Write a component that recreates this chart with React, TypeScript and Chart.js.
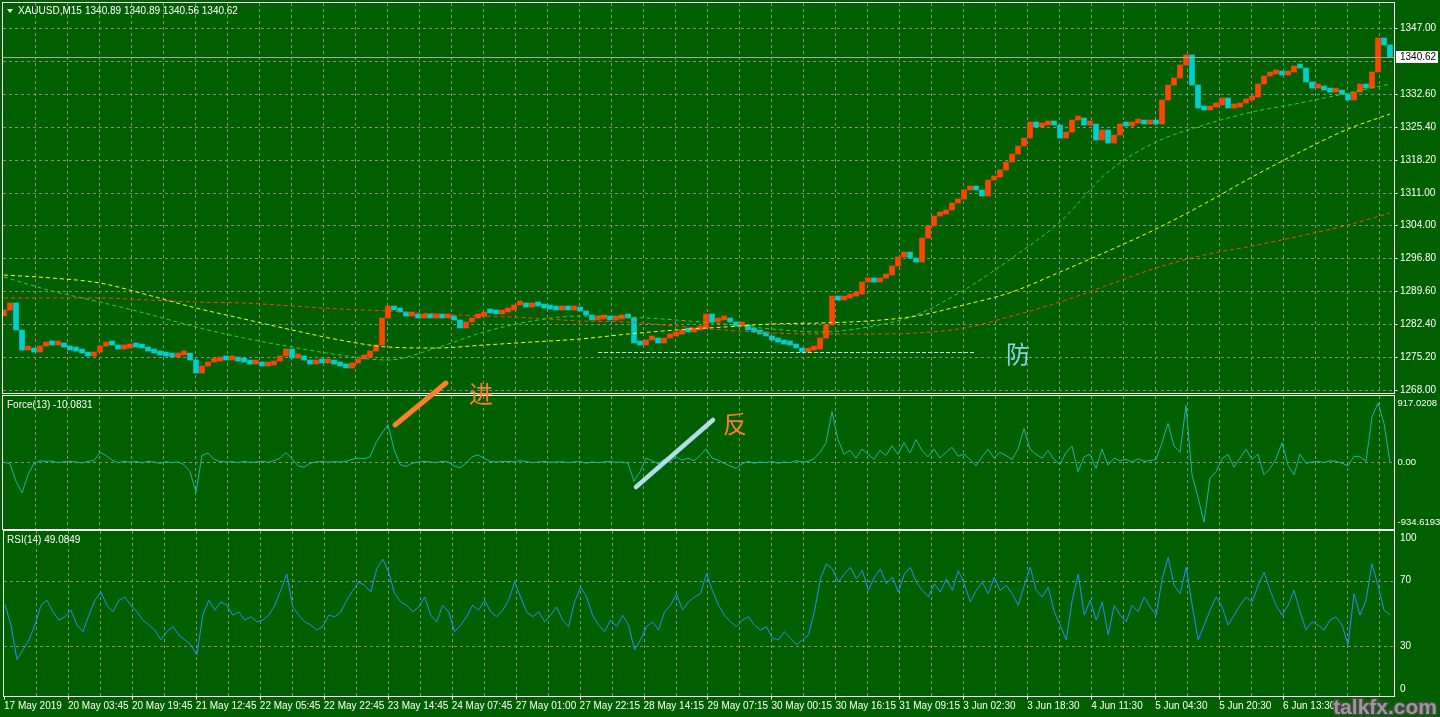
import React, { useEffect, useRef } from 'react';
import { Chart, registerables } from 'chart.js';

Chart.register(...registerables);

// ---------------- data ----------------
const SYMBOL_TEXT = 'XAUUSD,M15';
const OHLC_TEXT = '1340.89 1340.89 1340.56 1340.62';
const FORCE_TITLE = 'Force(13) -10.0831';
const RSI_TITLE = 'RSI(14) 49.0849';

const TIME_LABELS = [
  '17 May 2019', '20 May 03:45', '20 May 19:45', '21 May 12:45', '22 May 05:45', '22 May 22:45',
  '23 May 14:45', '24 May 07:45', '27 May 01:00', '27 May 22:15', '28 May 14:15', '29 May 07:15',
  '30 May 00:15', '30 May 16:15', '31 May 09:15', '3 Jun 02:30', '3 Jun 18:30', '4 Jun 11:30',
  '5 Jun 04:30', '5 Jun 20:30', '6 Jun 13:30',
];
const BARS_PER_LABEL = 64; // M15 bars between time labels
const BARS_PER_GRID = 32; // M15 bars between vertical grid lines
const BARS_VISIBLE = 1391; // M15 bars across the window
const BARS_PER_SAMPLE = 6; // M15 bars represented by each sample below
const MA_EVERY = 8; // samples between moving-average readings

const FIRST_OPEN = 1284.2;
const CLOSES = [
  1285.46, 1286.99, 1281.10, 1276.73, 1276.95, 1276.29, 1277.60, 1278.26, 1277.82, 1278.04,
  1277.38, 1276.73, 1276.51, 1276.07, 1275.42, 1276.29, 1277.60, 1278.26, 1277.82, 1276.95,
  1277.17, 1278.04, 1277.38, 1277.17, 1276.51, 1276.07, 1275.64, 1275.42, 1275.20, 1275.64,
  1276.07, 1274.55, 1271.71, 1273.24, 1274.11, 1274.33, 1274.77, 1274.55, 1274.98, 1274.33,
  1274.11, 1273.67, 1273.89, 1273.24, 1273.46, 1274.33, 1275.42, 1276.95, 1274.98, 1275.42,
  1274.55, 1273.67, 1274.11, 1273.89, 1274.11, 1273.67, 1273.24, 1272.80, 1273.89, 1274.77,
  1275.20, 1276.51, 1277.82, 1283.72, 1286.33, 1285.46, 1285.02, 1284.15, 1284.59, 1283.72,
  1284.15, 1283.72, 1284.37, 1283.72, 1284.15, 1283.28, 1281.53, 1282.84, 1283.72, 1284.15,
  1285.02, 1284.81, 1284.59, 1285.02, 1285.46, 1286.55, 1286.77, 1286.11, 1286.77, 1286.33,
  1285.90, 1285.68, 1285.46, 1286.11, 1285.46, 1285.90, 1285.24, 1284.37, 1283.28, 1283.50,
  1283.93, 1283.28, 1283.50, 1284.15, 1283.72, 1278.26, 1277.82, 1278.91, 1279.35, 1278.26,
  1279.35, 1279.79, 1280.22, 1281.10, 1280.66, 1281.10, 1281.53, 1284.59, 1282.84, 1283.28,
  1283.72, 1282.84, 1281.97, 1282.19, 1281.10, 1280.66, 1280.22, 1279.79, 1278.91, 1278.48,
  1278.04, 1277.82, 1277.17, 1276.29, 1276.73, 1276.95, 1279.35, 1282.19, 1288.51, 1287.64,
  1288.08, 1288.51, 1288.95, 1291.57, 1292.01, 1291.57, 1292.44, 1293.10, 1295.06, 1297.03,
  1298.12, 1296.81, 1295.93, 1301.17, 1303.79, 1305.97, 1306.41, 1307.28, 1308.81, 1309.68,
  1311.65, 1312.08, 1311.65, 1310.34, 1313.83, 1314.48, 1316.01, 1317.76, 1319.50, 1321.25,
  1322.99, 1326.49, 1325.40, 1325.83, 1326.49, 1325.83, 1322.99, 1324.30, 1326.92, 1327.36,
  1325.83, 1326.05, 1322.56, 1324.74, 1321.90, 1323.65, 1326.05, 1325.61, 1326.27, 1326.70,
  1326.05, 1326.27, 1326.05, 1331.29, 1334.56, 1336.09, 1338.93, 1341.11, 1334.56, 1329.54,
  1329.10, 1329.76, 1330.20, 1331.72, 1329.54, 1329.76, 1330.63, 1331.29, 1331.94, 1334.78,
  1336.52, 1336.96, 1337.40, 1336.74, 1337.40, 1338.71, 1338.27, 1335.22, 1333.91, 1334.12,
  1333.47, 1333.03, 1333.25, 1332.60, 1331.29, 1333.03, 1334.78, 1333.91, 1337.40, 1344.82,
  1343.29, 1340.62,
];

const MA_YELLOW = [
  1293.10, 1292.44, 1291.35, 1288.73, 1285.90, 1283.50, 1281.10, 1278.91, 1277.38, 1277.17,
  1277.82, 1278.48, 1279.13, 1280.22, 1281.10, 1281.75, 1282.41, 1282.63, 1283.06, 1284.15,
  1286.55, 1289.39, 1293.75, 1298.33, 1303.14, 1308.59, 1314.48, 1319.94, 1324.96, 1328.23,
];
const MA_GREEN = [
  1292.66, 1289.61, 1287.20, 1284.59, 1281.75, 1279.35, 1277.38, 1275.64, 1274.55, 1277.17,
  1280.66, 1283.06, 1284.15, 1283.93, 1283.28, 1282.41, 1281.31, 1280.66, 1281.75, 1284.37,
  1289.82, 1296.81, 1304.66, 1315.57, 1322.12, 1325.83, 1328.67, 1330.63, 1332.82, 1334.78,
];
const MA_RED = [
  1288.08, 1288.08, 1288.08, 1287.64, 1287.20, 1286.99, 1286.33, 1285.68, 1285.24, 1284.59,
  1284.15, 1283.72, 1283.06, 1282.84, 1281.97, 1281.10, 1280.44, 1280.22, 1280.22, 1280.44,
  1281.53, 1284.15, 1287.20, 1290.91, 1294.62, 1297.46, 1299.43, 1301.61, 1304.01, 1306.63,
];

const FORCE = [
  0, -30, -300, -480, -200, -20, 20, 10, 15, -10,
  5, 10, 0, -15, 10, 20, 150, 100, 30, -10,
  10, 0, 10, -15, 10, 0, -20, 5, -10, 0,
  -40, -150, -470, 100, 140, 40, 10, 0, 5, -10,
  10, -5, 0, 10, -5, 20, 60, 150, 50, -60,
  -80, -20, 0, 10, -5, 5, 0, 10, 40, 60,
  50, 80, 300, 450, 580, 200, -40, -70, -20, 0,
  10, 0, -10, 10, 0, -60, -90, -20, 80, 110,
  60, 10, 0, 5, 10, 0, 20, 10, -10, 0,
  10, -5, 0, 5, -10, 0, 10, -20, 0, -10,
  0, 10, -5, 0, -20, -300, -150, 60, 20, -30,
  40, 10, 80, 30, 60, 20, 100, 200, 60, 30,
  -20, -60, -100, -30, 10, -20, 0, -10, 10, -20,
  0, -10, 20, 0, 10, 50, 150, 300, 780, 350,
  120, 180, 60, 200, 120, 40, 180, 100, 250, 120,
  300, 140, 350, 180, 80, 200, 60, 150, 230, 90,
  120, 40, -60, 80, 200, 60, 150, 100, 40, 200,
  520, 200, 120, 60, 180, 40, -40, 150, 250, -150,
  80, 120, -100, 200, -50, 60, 20, 40, 0, 50,
  10, 20, 40, 300, 600, 250, 150, 880, -200, -550,
  -934.6, -250, -150, 50, 120, -80, 60, 200, 40, 120,
  -200, -100, 50, 300, -50, -200, 120, -20, 0, 10,
  -10, 20, 10, -20, -60, 90, 80, 10, 700, 917,
  600, -10.08,
];

const RSI = [
  55.5, 43, 22, 28, 34, 43, 55, 58, 51, 46,
  48, 52, 43, 39, 49, 58, 63, 55, 51, 58,
  60, 55, 51, 46, 43, 40, 34, 39, 42, 37,
  34, 31, 25, 49, 58, 52, 57, 55, 49, 51,
  46, 48, 45, 46, 49, 55, 64, 74, 54, 49,
  45, 43, 40, 42, 49, 48, 51, 58, 64, 69,
  67, 63, 77, 83, 75, 62, 57, 55, 51, 54,
  60, 49, 45, 55, 51, 39, 43, 48, 55, 52,
  58, 51, 48, 52, 58, 69, 60, 51, 48, 51,
  45, 49, 54, 46, 42, 57, 66, 60, 49, 43,
  39, 46, 42, 49, 43, 28, 34, 42, 45, 40,
  51, 55, 62, 52, 57, 60, 62, 74, 64, 55,
  49, 45, 42, 46, 48, 43, 40, 42, 35, 34,
  39, 35, 31, 34, 37, 51, 71, 80, 77, 69,
  74, 78, 71, 76, 64, 72, 77, 68, 72, 63,
  74, 78, 69, 64, 60, 68, 63, 71, 64, 76,
  68, 57, 64, 69, 62, 72, 64, 67, 62, 55,
  67, 78, 64, 60, 66, 51, 43, 34, 58, 74,
  49, 58, 46, 57, 37, 55, 49, 45, 55, 51,
  60, 54, 49, 71, 84, 67, 62, 78, 55, 34,
  43, 52, 60, 54, 43, 49, 55, 60, 57, 67,
  75, 64, 55, 49, 55, 64, 51, 40, 45, 43,
  40, 46, 48, 43, 31, 62, 49, 58, 80, 67,
  52, 49.08,
];

const PRICE_LEVELS = [1268.0, 1275.2, 1282.4, 1289.6, 1296.8, 1304.0, 1311.0, 1318.2, 1325.4, 1332.6, 1339.8, 1347.0];
const LAST_PRICE = 1340.62;
const PRICE_RANGE = [1267.35, 1352.46];
const FORCE_LEVELS = [917.0208, 0, -934.6193];
const FORCE_LABELS = ['917.0208', '0.00', '-934.6193'];
const FORCE_RANGE = [-1041.9, 1026.3];
const RSI_LEVELS = [100, 70, 30, 0];
const RSI_GRID = [70, 30];

// hand-drawn annotations, in bar number / value units of their panel
const NOTE_ENTRY_LINE = [[392, 575], [443, 1228]];
const NOTE_ENTRY_TEXT = { text: '进', bar: 478, value: 1057 };
const NOTE_REVERSE_LINE = [[633, -389], [710, 653]];
const NOTE_REVERSE_TEXT = { text: '反', bar: 732, value: 591 };
const NOTE_STOP_LINE = { value: 1276.29, fromBar: 595, toBar: 972 };
const NOTE_STOP_TEXT = { text: '防', bar: 1015, value: 1275.85 };
const WATERMARK = 'talkfx.com';

// ---------------- styles ----------------
const W = 1440;
const FONT = "'Liberation Sans', Arial, sans-serif";
const FONT_SIZE = 10;
const CJK = "'Noto Sans CJK SC', sans-serif";
const BG = '#006000';
const GRID_COLOR = '#8c8c8c';
const FRAME = '#ffffff';
const TEXT = '#ffffff';
const BULL = '#FF4500';
const BEAR = '#00CED1';
const AXIS_W = 46;

Chart.defaults.font.family = FONT;

const sampleBar = (i: number) => i * BARS_PER_SAMPLE + 1;

const xScale = (labels: boolean) => ({
  type: 'linear',
  min: 0,
  max: BARS_VISIBLE,
  offset: false,
  grid: { display: false, drawTicks: false, tickLength: 0 },
  border: { display: false },
  afterBuildTicks: (s: any) => {
    s.ticks = TIME_LABELS.map((_, k) => ({ value: k * BARS_PER_LABEL }));
  },
  ticks: labels
    ? {
        autoSkip: false,
        maxRotation: 0,
        minRotation: 0,
        align: 'start',
        padding: 4,
        color: TEXT,
        font: { family: FONT, size: FONT_SIZE },
        callback: (_v: any, i: number) => TIME_LABELS[i],
      }
    : { display: false },
  afterFit: (s: any) => {
    s.height = labels ? 21 : 0;
  },
});

const yScale = (range: number[]) => ({
  type: 'linear',
  position: 'right',
  min: range[0],
  max: range[1],
  grid: { display: false },
  border: { display: false },
  ticks: { display: false },
  afterFit: (s: any) => {
    s.width = AXIS_W;
  },
});

type Spec = {
  hGrid: number[];
  labels: { v: number; t: string }[];
  labelGap: number;
  labelSize: number;
  title: (ctx: CanvasRenderingContext2D, a: any) => void;
  afterData?: (chart: any) => void;
  after?: (chart: any) => void;
};

function line(ctx: CanvasRenderingContext2D, x1: number, y1: number, x2: number, y2: number) {
  ctx.beginPath();
  ctx.moveTo(x1, y1);
  ctx.lineTo(x2, y2);
  ctx.stroke();
}

function panelPlugin(spec: Spec) {
  return {
    id: 'mt4panel',
    beforeDatasetsDraw(chart: any) {
      const { ctx, chartArea: a, scales } = chart;
      const xs = scales.x;
      const ys = scales.y;
      ctx.save();
      ctx.strokeStyle = GRID_COLOR;
      ctx.lineWidth = 1;
      ctx.setLineDash([3, 3]);
      for (let b = BARS_PER_GRID; b < xs.max; b += BARS_PER_GRID) {
        const px = Math.round(xs.getPixelForValue(b)) + 0.5;
        line(ctx, px, a.top, px, a.bottom);
      }
      for (const v of spec.hGrid) {
        const py = Math.round(ys.getPixelForValue(v)) + 0.5;
        line(ctx, a.left, py, a.right, py);
      }
      ctx.restore();
    },
    afterDatasetsDraw(chart: any) {
      if (spec.afterData) spec.afterData(chart);
    },
    afterDraw(chart: any) {
      const { ctx, chartArea: a, scales } = chart;
      const ys = scales.y;
      ctx.save();
      ctx.strokeStyle = FRAME;
      ctx.lineWidth = 1;
      ctx.setLineDash([]);
      const l = Math.round(a.left) - 0.5;
      const r = Math.round(a.right) + 0.5;
      const t = Math.round(a.top) - 0.5;
      const btm = Math.round(a.bottom) + 0.5;
      ctx.strokeRect(l, t, r - l, btm - t);
      ctx.fillStyle = TEXT;
      ctx.textBaseline = 'middle';
      ctx.textAlign = 'left';
      ctx.font = `${spec.labelSize}px ${FONT}`;
      for (const lab of spec.labels) {
        const py = ys.getPixelForValue(lab.v);
        const ty = Math.min(Math.max(py, a.top + 7), a.bottom - 7);
        ctx.fillText(lab.t, r + spec.labelGap, ty);
      }
      ctx.font = `${FONT_SIZE}px ${FONT}`;
      spec.title(ctx, a);
      ctx.restore();
      if (spec.after) spec.after(chart);
    },
  };
}

const baseOptions = (padding: any, xLabels: boolean, range: number[]) => ({
  responsive: false,
  animation: false,
  devicePixelRatio: 1,
  events: [],
  layout: { padding },
  plugins: { legend: { display: false }, tooltip: { enabled: false } },
  scales: { x: xScale(xLabels), y: yScale(range) },
});

function priceConfig(): any {
  const opens = CLOSES.map((_, i) => (i === 0 ? FIRST_OPEN : CLOSES[i - 1]));
  const candles = CLOSES.map((c, i) => ({ x: sampleBar(i), y: [opens[i], c] }));
  const colors = CLOSES.map((c, i) => (c >= opens[i] ? BULL : BEAR));
  const ma = (arr: number[]) =>
    arr.map((v, k) => ({ x: sampleBar(Math.min(k * MA_EVERY, CLOSES.length - 1)), y: v }));
  const maSet = (arr: number[], color: string) => ({
    type: 'line',
    data: ma(arr),
    borderColor: color,
    borderWidth: 1,
    borderDash: [4, 3],
    pointRadius: 0,
    cubicInterpolationMode: 'monotone',
    order: 0,
  });
  const labels = PRICE_LEVELS.map((v) => ({ v, t: v.toFixed(2) }));
  return {
    type: 'bar',
    data: {
      datasets: [
        maSet(MA_YELLOW, '#FFFF00'),
        maSet(MA_GREEN, '#32CD32'),
        maSet(MA_RED, '#FF4500'),
        {
          type: 'bar',
          data: candles,
          backgroundColor: colors,
          borderWidth: 0,
          barThickness: 5,
          minBarLength: 4,
          grouped: false,
          order: 1,
        },
      ],
    },
    options: baseOptions({ left: 3, top: 3, right: 0, bottom: 1 }, false, PRICE_RANGE),
    plugins: [
      panelPlugin({
        hGrid: PRICE_LEVELS,
        labels: [],
        labelGap: 5.5,
        labelSize: FONT_SIZE,
        title: (ctx) => {
          ctx.beginPath();
          ctx.moveTo(7, 9);
          ctx.lineTo(13, 9);
          ctx.lineTo(10, 13);
          ctx.closePath();
          ctx.fill();
          ctx.fillText(SYMBOL_TEXT, 18, 11);
          ctx.fillText(OHLC_TEXT, 85, 11);
        },
        afterData: (chart) => {
          const { ctx, chartArea: a, scales } = chart;
          const ys = scales.y;
          const xs = scales.x;
          ctx.save();
          // stop level annotation
          ctx.strokeStyle = '#B8E4F2';
          ctx.lineWidth = 1;
          ctx.setLineDash([4, 2]);
          const sy = Math.round(ys.getPixelForValue(NOTE_STOP_LINE.value)) + 0.5;
          line(ctx, xs.getPixelForValue(NOTE_STOP_LINE.fromBar), sy, xs.getPixelForValue(NOTE_STOP_LINE.toBar), sy);
          ctx.setLineDash([]);
          ctx.font = `24px ${CJK}`;
          ctx.fillStyle = '#8ECFE2';
          ctx.textAlign = 'center';
          ctx.textBaseline = 'middle';
          ctx.fillText(NOTE_STOP_TEXT.text, xs.getPixelForValue(NOTE_STOP_TEXT.bar), ys.getPixelForValue(NOTE_STOP_TEXT.value));
          // last price line
          const py = Math.round(ys.getPixelForValue(LAST_PRICE)) + 0.5;
          ctx.strokeStyle = '#a8a8a8';
          line(ctx, a.left, py, a.right, py);
          ctx.restore();
        },
        after: (chart) => {
          const { ctx, chartArea: a, scales } = chart;
          const ys = scales.y;
          const r = Math.round(a.right) + 0.5;
          const lastPy = ys.getPixelForValue(LAST_PRICE);
          ctx.save();
          ctx.font = `${FONT_SIZE}px ${FONT}`;
          ctx.textBaseline = 'middle';
          ctx.textAlign = 'left';
          ctx.strokeStyle = FRAME;
          ctx.fillStyle = TEXT;
          for (const lab of labels) {
            const py = ys.getPixelForValue(lab.v);
            if (Math.abs(py - lastPy) < 9) continue;
            ctx.fillText(lab.t, r + 5.5, py);
            line(ctx, r, Math.round(py) + 0.5, r + 3, Math.round(py) + 0.5);
          }
          ctx.fillStyle = '#ffffff';
          ctx.fillRect(r + 1.5, Math.round(lastPy) - 6, 42, 12);
          ctx.fillStyle = '#000000';
          ctx.fillText(LAST_PRICE.toFixed(2), r + 5.5, lastPy);
          ctx.restore();
        },
      }),
    ],
  };
}

function forceConfig(): any {
  return {
    type: 'line',
    data: {
      datasets: [
        {
          data: FORCE.map((v, i) => ({ x: sampleBar(i), y: v })),
          borderColor: '#20B2AA',
          borderWidth: 1,
          pointRadius: 0,
        },
      ],
    },
    options: baseOptions({ left: 3, top: 26, right: 0, bottom: 1 }, false, FORCE_RANGE),
    plugins: [
      panelPlugin({
        hGrid: [0],
        labels: FORCE_LEVELS.map((v, i) => ({ v, t: FORCE_LABELS[i] })),
        labelGap: 3,
        labelSize: 9.5,
        title: (ctx, a) => {
          ctx.fillText(FORCE_TITLE, 7, a.top + 9);
        },
        after: (chart) => {
          const { ctx, scales } = chart;
          const xs = scales.x;
          const ys = scales.y;
          const P = (p: number[]) => [xs.getPixelForValue(p[0]), ys.getPixelForValue(p[1])];
          ctx.save();
          ctx.lineCap = 'round';
          ctx.lineWidth = 5;
          ctx.strokeStyle = '#FF7F27';
          let [x1, y1] = P(NOTE_ENTRY_LINE[0]);
          let [x2, y2] = P(NOTE_ENTRY_LINE[1]);
          line(ctx, x1, y1, x2, y2);
          ctx.strokeStyle = '#B4DDEB';
          ctx.lineWidth = 4.5;
          [x1, y1] = P(NOTE_REVERSE_LINE[0]);
          [x2, y2] = P(NOTE_REVERSE_LINE[1]);
          line(ctx, x1, y1, x2, y2);
          ctx.font = `24px ${CJK}`;
          ctx.fillStyle = '#FF7F27';
          ctx.textAlign = 'center';
          ctx.textBaseline = 'middle';
          ctx.fillText(NOTE_ENTRY_TEXT.text, xs.getPixelForValue(NOTE_ENTRY_TEXT.bar), ys.getPixelForValue(NOTE_ENTRY_TEXT.value));
          ctx.fillText(NOTE_REVERSE_TEXT.text, xs.getPixelForValue(NOTE_REVERSE_TEXT.bar), ys.getPixelForValue(NOTE_REVERSE_TEXT.value));
          ctx.restore();
        },
      }),
    ],
  };
}

function rsiConfig(): any {
  return {
    type: 'line',
    data: {
      datasets: [
        {
          data: RSI.map((v, i) => ({ x: sampleBar(i), y: v })),
          borderColor: '#1E90FF',
          borderWidth: 1,
          pointRadius: 0,
        },
      ],
    },
    options: baseOptions({ left: 3, top: 1, right: 0, bottom: 0 }, true, [0, 100]),
    plugins: [
      panelPlugin({
        hGrid: RSI_GRID,
        labels: RSI_LEVELS.map((v) => ({ v, t: String(v) })),
        labelGap: 5.5,
        labelSize: FONT_SIZE,
        title: (ctx, a) => {
          ctx.fillText(RSI_TITLE, 7, a.top + 9);
        },
        after: (chart) => {
          const { ctx, chartArea: a, scales } = chart;
          const xs = scales.x;
          ctx.save();
          ctx.strokeStyle = FRAME;
          ctx.lineWidth = 1;
          const b = Math.round(a.bottom) + 0.5;
          TIME_LABELS.forEach((_, k) => {
            const px = Math.round(xs.getPixelForValue(k * BARS_PER_LABEL)) + 0.5;
            line(ctx, px, b, px, b + 3);
          });
          ctx.font = `bold 21px ${FONT}`;
          ctx.textAlign = 'right';
          ctx.textBaseline = 'alphabetic';
          ctx.lineWidth = 3;
          ctx.strokeStyle = '#4a4a4a';
          ctx.strokeText(WATERMARK, chart.width - 3, chart.height - 3);
          ctx.fillStyle = '#9a9a9a';
          ctx.fillText(WATERMARK, chart.width - 3, chart.height - 3);
          ctx.restore();
        },
      }),
    ],
  };
}

export default function App() {
  const priceRef = useRef<HTMLCanvasElement>(null);
  const forceRef = useRef<HTMLCanvasElement>(null);
  const rsiRef = useRef<HTMLCanvasElement>(null);

  useEffect(() => {
    const charts = [
      new Chart(priceRef.current as HTMLCanvasElement, priceConfig()),
      new Chart(forceRef.current as HTMLCanvasElement, forceConfig()),
      new Chart(rsiRef.current as HTMLCanvasElement, rsiConfig()),
    ];
    return () => charts.forEach((c) => c.destroy());
  }, []);

  return (
    <div
      style={{
        position: 'fixed',
        left: 0,
        top: 0,
        width: W,
        height: 717,
        background: BG,
        overflow: 'hidden',
      }}
    >
      <canvas ref={priceRef} width={W} height={394} style={{ position: 'absolute', left: 0, top: 0 }} />
      <canvas ref={rsiRef} width={W} height={187} style={{ position: 'absolute', left: 0, top: 530 }} />
      <canvas ref={forceRef} width={W} height={160} style={{ position: 'absolute', left: 0, top: 370 }} />
    </div>
  );
}
